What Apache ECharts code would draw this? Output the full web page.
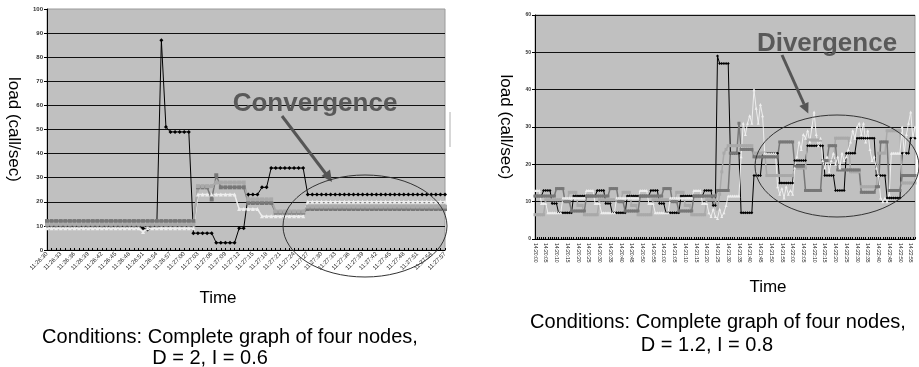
<!DOCTYPE html>
<html>
<head>
<meta charset="utf-8">
<script src="https://cdn.jsdelivr.net/npm/echarts@6/dist/echarts.min.js"></script>
<style>
  html, body { margin: 0; padding: 0; background: #fff; }
  #chart { width: 919px; height: 367px; }
</style>
</head>
<body>
<div id="chart"></div>
<script>
const FONT = '"Liberation Sans", Arial, Helvetica, sans-serif';

// ---- Run 1: D = 2, I = 0.6 (one sample per second from 11:26:30) ----
const leftTicks = [
  '11:26:30','11:26:33','11:26:36','11:26:39','11:26:42','11:26:45','11:26:48','11:26:51','11:26:54','11:26:57',
  '11:27:00','11:27:03','11:27:06','11:27:09','11:27:12','11:27:15','11:27:18','11:27:21','11:27:24','11:27:27',
  '11:27:30','11:27:33','11:27:36','11:27:39','11:27:42','11:27:45','11:27:48','11:27:51','11:27:54','11:27:57'
];
const leftNode1 = [
  10,10,10,10,10,10,10,10,10,10,
  10,10,10,10,10,10,10,10,10,10,
  10,9,8.5,10,10,87,51,49,49,49,
  49,49,7,7,7,7,7,3,3,3,
  3,3,9,9,23,23,23,26,26,34,
  34,34,34,34,34,34,34,23,23,23,
  23,23,23,23,23,23,23,23,23,23,
  23,23,23,23,23,23,23,23,23,23,
  23,23,23,23,23,23,23,23
];
const leftNode2 = [
  12,12,12,12,12,12,12,12,12,12,
  12,12,12,12,12,12,12,12,12,12,
  12,12,12,12,12,12,12,12,12,12,
  12,12,12,26,26,26,21,31,26,26,
  26,26,26,26,19.5,19.5,19.5,19.5,19.5,19.5,
  15.5,15.5,15.5,15.5,15.5,15.5,15.5,17,17,17,
  17,17,17,17,17,17,17,17,17,17,
  17,17,17,17,17,17,17,17,17,17,
  17,17,17,17,17,17,17,17
];
const leftNode3 = [
  10.5,10.5,10.5,10.5,10.5,10.5,10.5,10.5,10.5,10.5,
  10.5,10.5,10.5,10.5,10.5,10.5,10.5,10.5,10.5,10.5,
  10.5,10.5,10.5,10.5,10.5,10.5,10.5,10.5,10.5,10.5,
  10.5,10.5,10.5,26.5,26.5,26.5,26.5,28,28,28,
  28,28,28,28,21,21,21,21,21,21,
  16,16,16,16,16,16,16,18,18,18,
  18,18,18,18,18,18,18,18,18,18,
  18,18,18,18,18,18,18,18,18,18,
  18,18,18,18,18,18,18,18
];
const leftNode4 = [
  9,9,9,9,9,9,9,9,9,9,
  9,9,9,9,9,9,9,9,9,9,
  9,7.5,9,9,9,9,9,9,9,9,
  9,9,9,23,23,23,23,23,23,23,
  23,23,17,17,17,17,17,14,14,14,
  14,14,14,14,14,14,14,20,20,20,
  20,20,20,20,20,20,20,20,20,20,
  20,20,20,20,20,20,20,20,20,20,
  20,20,20,20,20,20,20,20
];

// ---- Run 2: D = 1.2, I = 0.8 (one sample per second from 14:20:00) ----
const rightTicks = [
  '14:20:00','14:20:05','14:20:10','14:20:15','14:20:20','14:20:25','14:20:30','14:20:35','14:20:40','14:20:45',
  '14:20:50','14:20:55','14:21:00','14:21:05','14:21:10','14:21:15','14:21:20','14:21:25','14:21:30','14:21:35',
  '14:21:40','14:21:45','14:21:50','14:21:55','14:22:00','14:22:05','14:22:10','14:22:15','14:22:20','14:22:25',
  '14:22:30','14:22:35','14:22:40','14:22:45','14:22:50','14:22:55'
];
const rightNode1 = [
  11.5,11.5,11.5,11.5,13,13,13,13,9.5,9.5,
  9.5,7,7,7,7,7,7,7,11.5,11.5,
  11.5,11.5,11.5,11.5,11.5,11.5,11.5,11.5,11.5,13,
  13,13,13,9.5,9.5,9.5,7,7,7,7,
  7,7,7,11.5,11.5,11.5,11.5,11.5,11.5,11.5,
  11.5,11.5,11.5,11.5,13,13,13,13,9.5,9.5,
  9.5,7,7,7,7,7,7,7,11.5,11.5,
  11.5,11.5,11.5,11.5,11.5,11.5,11.5,11.5,11.5,13,
  13,13,13,9,9,49,47,47,47,47,
  47,23,23,23,23,23,7,7,7,7,
  7,7,17,17,17,17,23,23,23,23,
  23,23,23,23,15,15,15,15,15,15,
  15,21,21,21,21,21,21,25,25,25,
  25,25,25,25,25,17,17,17,17,17,
  13,13,13,13,13,23,23,23,23,23,
  27,27,27,27,27,27,27,27,27,17,
  17,17,17,17,11,11,11,11,11,11,
  11,23,23,23,23,27,27,27
];
const rightNode2 = [
  11.5,11.5,11.5,11.5,11.5,11.5,11.5,11.5,11.5,11.5,
  13.5,13.5,13.5,13.5,10,10,10,7.5,7.5,7.5,
  7.5,7.5,7.5,7.5,11.5,11.5,11.5,11.5,11.5,11.5,
  11.5,11.5,11.5,11.5,11.5,13.5,13.5,13.5,13.5,10,
  10,10,7.5,7.5,7.5,7.5,7.5,7.5,7.5,11.5,
  11.5,11.5,11.5,11.5,11.5,11.5,11.5,11.5,11.5,11.5,
  13.5,13.5,13.5,13.5,10,10,10,7.5,7.5,7.5,
  7.5,7.5,7.5,7.5,11.5,11.5,11.5,11.5,11.5,11.5,
  11.5,11.5,11.5,11.5,11.5,13,13,13,13,13,
  13,23,23,23,23,31,24,24,24,24,
  24,24,22,22,22,22,22,22,22,22,
  22,22,22,22,26,26,26,26,26,26,
  26,19.5,19.5,19.5,19.5,19.5,13,13,13,13,
  13,13,13,13,21,21,21,25,25,25,
  25,18.5,18.5,18.5,18.5,18.5,18.5,18.5,18.5,18.5,
  18.5,18.5,12.5,12.5,12.5,12.5,12.5,12.5,12.5,14,
  14,26,26,26,26,13,13,13,13,13,
  13,17,17,17,17,17,17,17
];
const rightNode3 = [
  6.5,6.5,6.5,6.5,6.5,10.5,10.5,10.5,10.5,10.5,
  10.5,10.5,10.5,10.5,10.5,10.5,12.5,12.5,12.5,12.5,
  9,9,9,6.5,6.5,6.5,6.5,6.5,6.5,6.5,
  10.5,10.5,10.5,10.5,10.5,10.5,10.5,10.5,10.5,10.5,
  10.5,12.5,12.5,12.5,12.5,9,9,9,6.5,6.5,
  6.5,6.5,6.5,6.5,6.5,10.5,10.5,10.5,10.5,10.5,
  10.5,10.5,10.5,10.5,10.5,10.5,12.5,12.5,12.5,12.5,
  9,9,9,6.5,6.5,6.5,6.5,6.5,6.5,6.5,
  10.5,10.5,10.5,10.5,10.5,8,12,18,23,24,
  25,25,25,25,25,25,25,25,25,25,
  25,25,23,23,23,23,23,23,17,17,
  17,17,17,17,17,17,17,17,17,17,
  17,19,19,19,19,19,19,26.5,26.5,26.5,
  26.5,26.5,26.5,26.5,21,21,21,21,21,21,
  27,27,27,27,27,27,27,18,18,18,
  18,18,14,14,14,14,14,14,14,14,
  23,23,23,23,29,29,29,29,29,29,
  29,15,15,15,15,15,15,15
];
const rightNode4 = [
  13,13,13,9.5,9.5,9.5,7,7,7,7,
  7,7,7,11,11,11,11,11,11,11,
  11,11,11,11,13,13,13,13,9.5,9.5,
  9.5,7,7,7,7,7,7,7,11,11,
  11,11,11,11,11,11,11,11,11,13,
  13,13,13,9.5,9.5,9.5,7,7,7,7,
  7,7,7,11,11,11,11,11,11,11,
  11,11,11,11,13,13,13,13,9.5,9.5,
  9.5,7,6,8,6,5.5,8,6,7,9,
  11.5,11.5,11.5,11.5,11.5,11.5,22,31,28,31,
  33,31,40,35,31,36,33,23,23,23,
  23,23,23,14,12,13.5,11,14,12,13,
  12,19,22,26,24,28,27,29,26,30,
  34,28,25,27,21,19,22,18,21,23,
  20,22,19,23,21,22,24,26,29,27,
  30,31,28,31,26,29,24,21,22,19,
  17,11,10,11,10,12,23,23,23,23,
  23,30,23,28,31,34,27,30
];

// per-second category names starting at a clock time
function secondsFrom(start, count) {
  const p = start.split(':').map(Number);
  const t0 = p[0] * 3600 + p[1] * 60 + p[2];
  const out = [];
  for (let k = 0; k < count; k++) {
    const s = t0 + k;
    out.push([Math.floor(s / 3600), Math.floor(s / 60) % 60, s % 60]
      .map(n => String(n).padStart(2, '0')).join(':'));
  }
  return out;
}
const leftTimes = secondsFrom(leftTicks[0], leftNode1.length);
const rightTimes = secondsFrom(rightTicks[0], rightNode1.length);

const C_BLACK = '#000000', C_DARK = '#777777', C_LIGHT = '#a9a9a9', C_WHITE = '#eeeeee';

function node(data, idx, color, symbol, size, width) {
  return {
    type: 'line', xAxisIndex: idx, yAxisIndex: idx, data,
    symbol, symbolSize: size, showAllSymbol: true,
    itemStyle: { color, borderWidth: 0 },
    lineStyle: { color, width },
    emphasis: { disabled: true }
  };
}

function valueAxis(idx, max, labelSize, name, gap, showTop) {
  return {
    type: 'value', gridIndex: idx, min: 0, max, interval: 10,
    axisLine: { show: true, lineStyle: { color: '#000', width: 1 } },
    axisTick: { show: true, length: 3, lineStyle: { color: '#000' } },
    axisLabel: { fontSize: labelSize, color: '#333', margin: 4, fontWeight: 'bold', fontFamily: FONT },
    splitLine: { show: true, showMaxLine: showTop, lineStyle: { color: '#111', width: 1 } },
    name, nameLocation: 'middle', nameRotate: -90, nameGap: gap,
    nameTextStyle: { fontSize: 17, color: '#000', fontFamily: FONT }
  };
}

const chart = echarts.init(document.getElementById('chart'), null, { renderer: 'canvas' });

const ann = { fill: '#595959', font: 'bold 26px ' + FONT };

chart.setOption({
  animation: false,
  backgroundColor: '#ffffff',
  grid: [
    { left: 47, top: 9, width: 398, height: 241, show: true, backgroundColor: '#c0c0c0',
      borderColor: '#9a9a9a', borderWidth: 1, outerBoundsMode: 'none' },
    { left: 535, top: 15, width: 380, height: 224, show: true, backgroundColor: '#c0c0c0',
      borderColor: '#9a9a9a', borderWidth: 1, outerBoundsMode: 'none' }
  ],
  xAxis: [
    {
      type: 'category', gridIndex: 0, data: leftTimes, boundaryGap: false,
      axisLine: { lineStyle: { color: '#000', width: 1 } },
      axisTick: { show: true, interval: 0, inside: true, length: 2, lineStyle: { color: '#000' } },
      axisLabel: { interval: 2, rotate: 45, fontSize: 6, color: '#222', margin: 3, fontFamily: FONT,
        formatter: (v, i) => leftTicks[i / 3] },
      splitLine: { show: false }
    },
    {
      type: 'category', gridIndex: 1, data: rightTimes, boundaryGap: false,
      axisLine: { lineStyle: { color: '#000', width: 1 } },
      axisTick: { show: true, interval: 0, inside: true, length: 2, lineStyle: { color: '#000' } },
      axisLabel: { interval: 4, rotate: -90, fontSize: 5, color: '#222', margin: 4, fontFamily: FONT,
        formatter: (v, i) => rightTicks[i / 5] },
      splitLine: { show: false }
    }
  ],
  yAxis: [
    valueAxis(0, 100, 6, 'load (call/sec)', 25, false),
    valueAxis(1, 60, 5, 'load (call/sec)', 21, true)
  ],
  series: [
    node(leftNode1, 0, C_BLACK, 'diamond', 4, 1),
    node(leftNode4, 0, C_WHITE, 'triangle', 4, 1.5),
    node(leftNode2, 0, C_DARK, 'rect', 4, 1.5),
    node(leftNode3, 0, C_LIGHT, 'rect', 4, 2),
    node(rightNode1, 1, C_BLACK, 'diamond', 3, 1),
    node(rightNode3, 1, C_LIGHT, 'rect', 3, 1.5),
    node(rightNode2, 1, C_DARK, 'rect', 3, 1.5),
    node(rightNode4, 1, C_WHITE, 'triangle', 3, 1)
  ],
  graphic: [
    // axis titles and captions
    { type: 'text', x: 218, y: 298, z: 100, style: { text: 'Time', font: '17px ' + FONT, fill: '#000', align: 'center', verticalAlign: 'middle' } },
    { type: 'text', x: 768, y: 287, z: 100, style: { text: 'Time', font: '17px ' + FONT, fill: '#000', align: 'center', verticalAlign: 'middle' } },
    { type: 'text', x: 230, y: 337, z: 100, style: { text: 'Conditions: Complete graph of four nodes,', font: '20px ' + FONT, fill: '#000', align: 'center', verticalAlign: 'middle' } },
    { type: 'text', x: 210, y: 358, z: 100, style: { text: 'D = 2, I = 0.6', font: '20px ' + FONT, fill: '#000', align: 'center', verticalAlign: 'middle' } },
    { type: 'text', x: 718, y: 322, z: 100, style: { text: 'Conditions: Complete graph of four nodes,', font: '20px ' + FONT, fill: '#000', align: 'center', verticalAlign: 'middle' } },
    { type: 'text', x: 707, y: 345, z: 100, style: { text: 'D = 1.2, I = 0.8', font: '20px ' + FONT, fill: '#000', align: 'center', verticalAlign: 'middle' } },

    // annotation: convergence
    { type: 'text', x: 315, y: 104, z: 100, style: Object.assign({ text: 'Convergence', align: 'center', verticalAlign: 'middle' }, ann) },
    { type: 'line', z: 100, shape: { x1: 282, y1: 116, x2: 326, y2: 174 }, style: { stroke: '#555', lineWidth: 3 } },
    { type: 'polygon', z: 100, shape: { points: [[332, 182], [321.5, 176], [330, 169.5]] }, style: { fill: '#555' } },
    { type: 'ellipse', z: 100, shape: { cx: 365, cy: 226, rx: 82, ry: 51 }, style: { fill: null, stroke: '#333', lineWidth: 1 } },
    { type: 'line', z: 100, shape: { x1: 450, y1: 112, x2: 450, y2: 147 }, style: { stroke: '#b0b0b0', lineWidth: 1 } },

    // annotation: divergence
    { type: 'text', x: 827, y: 44, z: 100, style: Object.assign({ text: 'Divergence', align: 'center', verticalAlign: 'middle' }, ann) },
    { type: 'line', z: 100, shape: { x1: 782, y1: 55, x2: 804, y2: 104 }, style: { stroke: '#555', lineWidth: 3 } },
    { type: 'polygon', z: 100, shape: { points: [[808.3, 113.5], [799.3, 105.9], [808.5, 101.9]] }, style: { fill: '#555' } },
    { type: 'ellipse', z: 100, shape: { cx: 837, cy: 166, rx: 82, ry: 51 }, style: { fill: null, stroke: '#333', lineWidth: 1 } }
  ]
});
</script>
</body>
</html>
